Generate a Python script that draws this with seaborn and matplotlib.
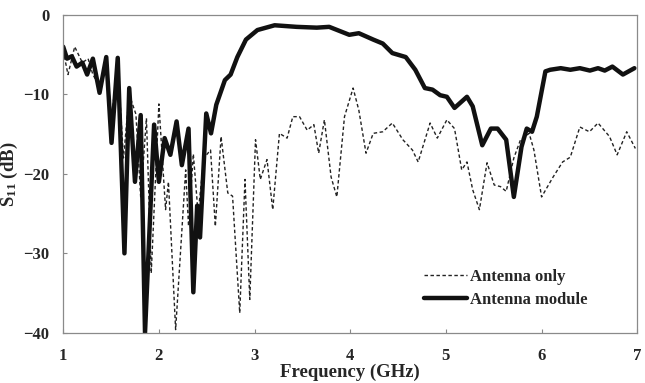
import matplotlib
matplotlib.use("Agg")
import matplotlib.pyplot as plt
import seaborn as sns

# Antenna only (thin dotted trace) -- frequency in GHz, S11 in dB
freq_only = [1.00, 1.05, 1.12, 1.20, 1.26, 1.31, 1.38, 1.45, 1.505, 1.57,
             1.63, 1.69, 1.76, 1.81, 1.87, 1.92, 2.00, 2.07, 2.10, 2.175,
             2.28, 2.31, 2.36, 2.41, 2.47, 2.54, 2.59, 2.65, 2.72, 2.77,
             2.845, 2.90, 2.95, 3.01, 3.06, 3.13, 3.19, 3.26, 3.34, 3.40,
             3.47, 3.55, 3.62, 3.67, 3.73, 3.80, 3.86, 3.94, 4.03, 4.09,
             4.165, 4.24, 4.34, 4.44, 4.55, 4.65, 4.71, 4.835, 4.91, 5.01,
             5.09, 5.165, 5.22, 5.28, 5.35, 5.43, 5.505, 5.57, 5.63, 5.71,
             5.78, 5.87, 5.92, 6.00, 6.12, 6.22, 6.30, 6.40, 6.50, 6.59,
             6.71, 6.79, 6.89, 6.98]
s11_only = [-4.5, -7.5, -4.0, -6.0, -5.5, -7.5, -9.0, -5.8, -13.0, -6.0,
            -18.0, -10.0, -12.5, -23.0, -13.0, -32.5, -11.2, -24.5, -21.0, -39.6,
            -19.5, -26.6, -17.5, -25.0, -18.0, -17.0, -26.6, -15.3, -22.4, -22.8,
            -37.5, -20.7, -35.8, -15.7, -20.7, -18.2, -24.5, -14.9, -15.5, -12.8,
            -12.8, -14.5, -13.8, -17.4, -13.2, -20.4, -22.9, -12.8, -9.2, -12.0,
            -17.4, -14.9, -14.7, -13.6, -15.7, -17.0, -18.5, -13.6, -15.5, -13.2,
            -14.3, -19.5, -18.5, -22.0, -24.5, -18.6, -21.4, -21.6, -22.2, -18.0,
            -15.7, -14.9, -17.0, -22.9, -20.4, -18.5, -17.9, -14.1, -14.7, -13.6,
            -15.3, -17.6, -14.7, -16.8]

# Antenna module (thick solid trace)
freq_module = [1.00, 1.04, 1.09, 1.14, 1.20, 1.25, 1.31, 1.38, 1.45, 1.505,
               1.57, 1.64, 1.69, 1.75, 1.81, 1.855, 1.95, 2.00, 2.06, 2.12,
               2.185, 2.24, 2.31, 2.36, 2.40, 2.43, 2.495, 2.545, 2.60, 2.69,
               2.75, 2.82, 2.91, 3.03, 3.21, 3.44, 3.65, 3.78, 3.99, 4.09,
               4.24, 4.34, 4.44, 4.58, 4.68, 4.78, 4.86, 4.94, 5.01, 5.09,
               5.22, 5.28, 5.38, 5.47, 5.54, 5.63, 5.71, 5.79, 5.845, 5.90,
               5.95, 6.04, 6.09, 6.20, 6.30, 6.40, 6.505, 6.59, 6.66, 6.74,
               6.85, 6.97]
s11_module = [-4.0, -5.5, -5.2, -6.5, -6.0, -7.5, -5.5, -9.8, -5.3, -16.1,
              -5.4, -30.0, -9.2, -21.0, -12.6, -40.0, -13.8, -21.0, -15.5, -17.6,
              -13.4, -18.9, -14.3, -34.9, -24.0, -28.0, -12.4, -14.9, -11.3, -8.2,
              -7.5, -5.3, -3.1, -1.9, -1.3, -1.5, -1.6, -1.5, -2.5, -2.3,
              -3.1, -3.6, -4.8, -5.3, -6.9, -9.2, -9.4, -10.1, -10.3, -11.7,
              -10.3, -11.5, -16.4, -14.3, -14.3, -15.7, -22.9, -16.6, -14.3, -14.7,
              -12.8, -7.1, -6.9, -6.7, -6.9, -6.7, -7.0, -6.7, -7.0, -6.5,
              -7.5, -6.7]

x_ticks = [1, 2, 3, 4, 5, 6, 7]
y_ticks = [-40, -30, -20, -10, 0]

sns.set_style("ticks")
plt.rcParams["font.family"] = ["Liberation Serif", "DejaVu Serif"]
plt.rcParams["font.weight"] = "bold"
plt.rcParams["mathtext.fontset"] = "custom"
plt.rcParams["mathtext.rm"] = "Liberation Serif:bold"
plt.rcParams["mathtext.it"] = "Liberation Serif:bold"

fig, ax = plt.subplots(figsize=(6.45, 3.83), dpi=100)
fig.subplots_adjust(left=0.098, right=0.988, bottom=0.131, top=0.961)

sns.lineplot(x=freq_only, y=s11_only, ax=ax, color="#222222", linewidth=1.0,
             linestyle=(0, (2.5, 1.8)), label="Antenna only", sort=False)
sns.lineplot(x=freq_module, y=s11_module, ax=ax, color="#111111", linewidth=3.2,
             label="Antenna module", sort=False)

ax.set_xlim(1, 7)
ax.set_ylim(-40, 0)
ax.set_xticks(x_ticks)
ax.set_yticks(y_ticks)
ax.tick_params(direction="in", length=3, width=0.8, color="#888888",
               labelsize=12)
ax.tick_params(axis="x", pad=11)
ax.tick_params(axis="y", pad=10)
for lab in ax.get_xticklabels() + ax.get_yticklabels():
    lab.set_fontweight("bold")

for side in ["left", "bottom", "top", "right"]:
    ax.spines[side].set_visible(True)
    ax.spines[side].set_color("#8a8a8a")
    ax.spines[side].set_linewidth(0.9)

ax.set_xlabel("Frequency (GHz)", fontsize=13.5, fontweight="bold", labelpad=0)
ax.set_ylabel("S$_{11}$ (dB)", fontsize=13.5, fontweight="bold", labelpad=2)

leg = ax.legend(loc="lower right", bbox_to_anchor=(0.94, 0.03), frameon=False,
                prop={"weight": "bold", "size": 12}, handlelength=2.6,
                handletextpad=0.2, labelspacing=0.45)

fig.savefig("out.png", dpi=100)
